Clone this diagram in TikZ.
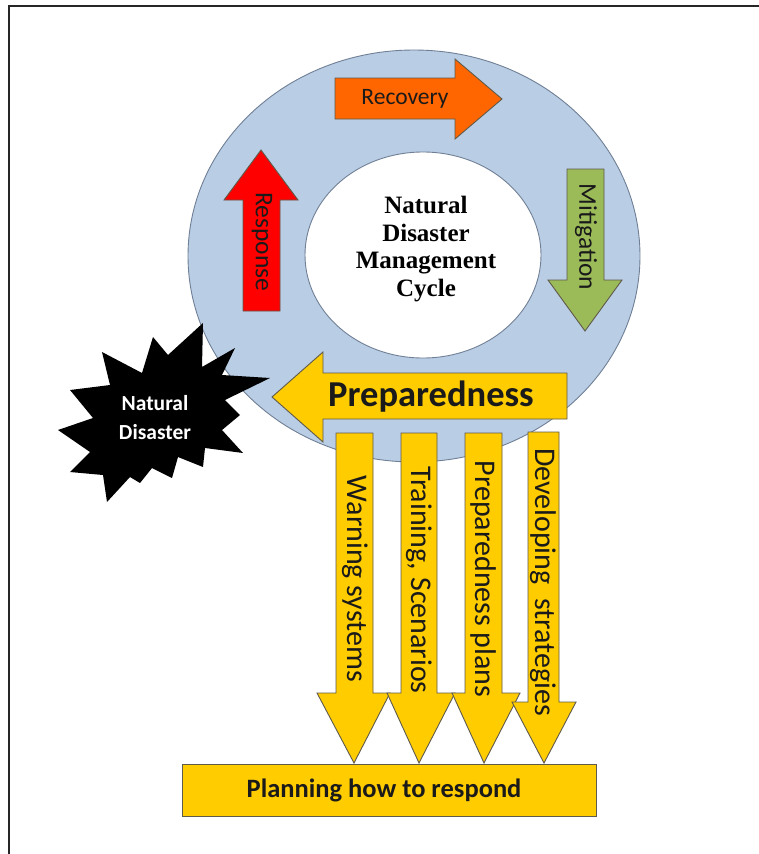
\documentclass[tikz,border=0pt]{standalone}
\usepackage{fontspec}
\setmainfont{Carlito}
\newfontfamily\cyclefont{Liberation Serif}
\definecolor{ringblue}{HTML}{B9CDE5}
\definecolor{ringedge}{HTML}{6F7F95}
\definecolor{recov}{HTML}{FF6600}
\definecolor{resp}{HTML}{FF0000}
\definecolor{mitig}{HTML}{9BBB59}
\definecolor{prep}{HTML}{FFCC00}
\definecolor{shapeedge}{HTML}{5F5A4A}
\definecolor{inktext}{HTML}{1A1A1A}
\begin{document}
\begin{tikzpicture}[x=1pt,y=-1pt,
  blockarrow/.style={draw=shapeedge, line width=0.9pt, line join=miter, fill=#1},
  phaselabel/.style={font=\fontsize{23.5}{25}\selectfont, text=inktext, inner sep=0pt},
  sidelabel/.style={font=\fontsize{25.5}{27}\selectfont, text=inktext, inner sep=0pt, rotate=-90},
  steplabel/.style={font=\fontsize{30}{32}\selectfont, text=inktext, inner sep=0pt, rotate=-90},
]
\useasboundingbox (0,0) rectangle (759,854);

% page frame
\draw[line width=2.5pt, black!85] (9,870) -- (9,6) -- (780,6);

% cycle ring
\draw[fill=ringblue, draw=ringedge, line width=0.9pt] (414,256) ellipse [x radius=226pt, y radius=206pt];
\draw[fill=white, draw=ringedge, line width=0.9pt] (423,255) ellipse [x radius=118pt, y radius=103pt];
\node[font=\cyclefont\bfseries\fontsize{25}{27.5}\selectfont, align=center, inner sep=0pt]
  (cycle) at (426,249) {Natural\\Disaster\\Management\\Cycle};

% recovery (right)
\draw[blockarrow=recov] (335,78) -- (455,78) -- (455,59) -- (502,99) -- (455,139) -- (455,119) -- (335,119) -- cycle;
\node[phaselabel] (recovery) at (405,99) {Recovery};

% mitigation (down)
\draw[blockarrow=mitig] (567,169) -- (604,169) -- (604,280) -- (622,280) -- (585,331) -- (548,280) -- (567,280) -- cycle;
\node[sidelabel] (mitigation) at (586,237) {Mitigation};

% response (up)
\draw[blockarrow=resp] (243,311) -- (243,200) -- (224,200) -- (261,150) -- (298,200) -- (280,200) -- (280,311) -- cycle;
\node[sidelabel] (response) at (262,242) {Response};

% preparedness (left)
\draw[blockarrow=prep] (567,373) -- (323,373) -- (323,352) -- (272,397) -- (323,442) -- (323,419) -- (567,419) -- cycle;
\node[font=\bfseries\fontsize{36.5}{39}\selectfont, text=inktext, inner sep=0pt] (prep) at (431,397) {Preparedness};

% natural disaster burst
\fill[black] (102,352) -- (142,373) -- (153,337) -- (168,355) -- (203,323) -- (202,367)
  -- (235,348) -- (222,375) -- (270,378) -- (225,400) -- (240,415) -- (222,430)
  -- (243,453) -- (205,448) -- (203,467) -- (178,457) -- (172,478) -- (152,468)
  -- (140,483) -- (130,477) -- (107,502) -- (103,475) -- (70,472) -- (90,452)
  -- (58,430) -- (93,418) -- (70,390) -- (110,385) -- cycle;
\node[font=\bfseries\fontsize{21.5}{29}\selectfont, text=white, align=center, inner sep=0pt]
  (disaster) at (155,418) {Natural\\Disaster};

% preparedness measures
\draw[blockarrow=prep] (336,433) -- (373,433) -- (373,693) -- (390,693) -- (354,763) -- (317,693) -- (336,693) -- cycle;
\draw[blockarrow=prep] (401,433) -- (437,433) -- (437,693) -- (455,693) -- (419,763) -- (387,693) -- (401,693) -- cycle;
\draw[blockarrow=prep] (465,433) -- (502,433) -- (502,693) -- (520,693) -- (484,763) -- (452,693) -- (465,693) -- cycle;
\draw[blockarrow=prep] (528,432) -- (559,432) -- (559,702) -- (576,702) -- (544,763) -- (512,702) -- (528,702) -- cycle;
\node[steplabel] (warning) at (355,579) {Warning systems};
\node[steplabel] (training) at (419,580) {Training, Scenarios};
\node[steplabel] (plans) at (483,579) {Preparedness plans};
\node[steplabel] (strategies) at (543,582) {Developing\ \ strategies};

% outcome
\node[draw=shapeedge, line width=0.9pt, fill=prep, minimum width=414pt, minimum height=52pt,
  inner sep=0pt, anchor=north west] (respond) at (182,764) {};
\node[font=\bfseries\fontsize{26.5}{29}\selectfont, text=inktext, inner sep=0pt] (respondtext) at (384,790) {Planning how to respond};
\end{tikzpicture}
\end{document}
